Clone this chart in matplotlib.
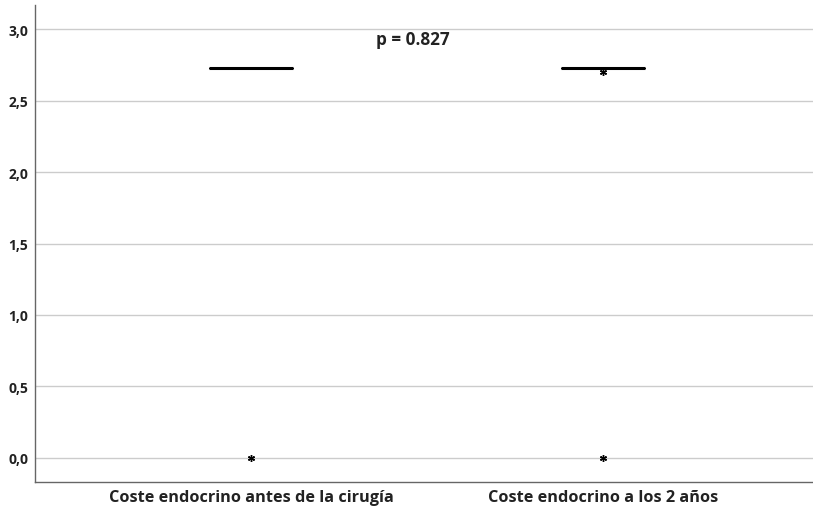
import matplotlib.pyplot as plt

categories = ["Coste endocrino antes de la cirugía", "Coste endocrino a los 2 años"]
medians = [2.73, 2.73]
q1 = [2.73, 2.73]
q3 = [2.73, 2.73]
whislo = [2.73, 2.73]
whishi = [2.73, 2.73]
fliers = [[0.0], [0.0, 2.70]]
yticks = [0.0, 0.5, 1.0, 1.5, 2.0, 2.5, 3.0]
p_label = "p = 0.827"

plt.rcParams['font.family'] = ['Open Sans', 'DejaVu Sans']

fig = plt.figure(figsize=(8.13, 5.10), dpi=100)
ax = fig.add_axes([35 / 813, 27 / 510, 778 / 813, 477 / 510])

stats = []
for i, name in enumerate(categories):
    stats.append(dict(label=name, med=medians[i], q1=q1[i], q3=q3[i],
                      whislo=whislo[i], whishi=whishi[i], fliers=fliers[i]))

ax.bxp(stats, positions=[1, 2], widths=0.24, showcaps=False,
       boxprops=dict(color='black', linewidth=0.5),
       whiskerprops=dict(color='black', linewidth=0.5),
       medianprops=dict(color='black', linewidth=2.2),
       flierprops=dict(marker=(6, 2, 0), markersize=5, markeredgecolor='black',
                       markerfacecolor='black', markeredgewidth=1.0, linestyle='none'))

ax.set_xlim(0.386, 2.597)
ax.set_ylim(-0.168, 3.168)
ax.set_yticks(yticks)
ax.set_yticklabels([f"{v:.1f}".replace('.', ',') for v in yticks],
                   fontsize=10, fontweight='bold', color='#222222')
ax.set_xticks([1, 2])
ax.set_xticklabels(categories, fontsize=11.7, fontweight='bold', color='#222222')
ax.tick_params(length=0, pad=5)
ax.tick_params(axis='x', pad=5)

ax.yaxis.grid(True, color='#cccccc', linewidth=1)
ax.set_axisbelow(True)
for s in ['top', 'right']:
    ax.spines[s].set_visible(False)
for s in ['left', 'bottom']:
    ax.spines[s].set_color('#666666')
    ax.spines[s].set_linewidth(1)

ax.text(1.46, 2.93, p_label, ha='center', va='center', fontsize=12.3,
        fontweight='bold', color='#222222')

fig.savefig('out.png', dpi=100)
